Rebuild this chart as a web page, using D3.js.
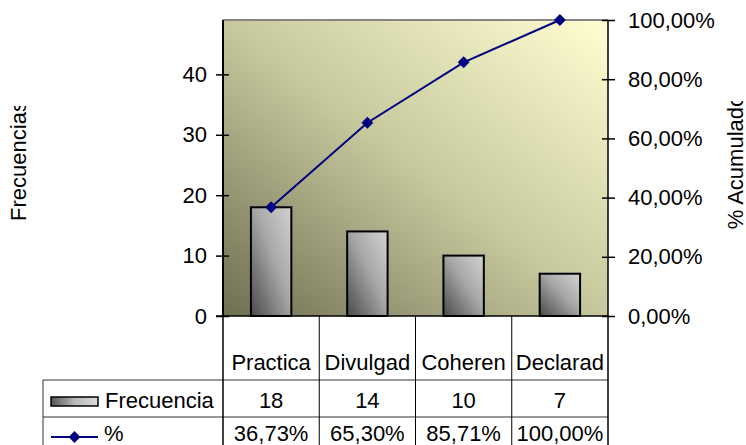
<!DOCTYPE html>
<html>
<head>
<meta charset="utf-8">
<script src="https://cdn.jsdelivr.net/npm/d3@7"></script>
<style>
  html, body { margin: 0; padding: 0; background: #ffffff; }
  svg { display: block; }
  text { font-family: "Liberation Sans", Arial, sans-serif; font-size: 22px; fill: #000; }
</style>
</head>
<body>
<svg id="chart" width="746" height="445"></svg>
<script>
// ---- data ----
const categories = ["Practica", "Divulgad", "Coheren", "Declarad"];
const frequencies = [18, 14, 10, 7];
const cumulativePct = [36.73, 65.30, 85.71, 100.00];
const leftTicks = [0, 10, 20, 30, 40];
const rightTicks = [0, 20, 40, 60, 80, 100];
const seriesNames = ["Frecuencia", "%"];
const axisTitles = ["Frecuencias", "% Acumulado"];

const locale = d3.formatLocale({ decimal: ",", thousands: ".", grouping: [3], currency: ["", ""] });
const fmtPct = v => locale.format(".2f")(v) + "%";

const svg = d3.select("#chart");
const plot = { left: 223, right: 608, top: 20, bottom: 316 };
const FONT = "Liberation Sans, Arial, sans-serif";

const x = d3.scaleBand().domain(categories).range([plot.left, plot.right]).padding(0);
const yL = d3.scaleLinear().domain([0, d3.sum(frequencies)]).range([plot.bottom, plot.top]);
const yR = d3.scaleLinear().domain([0, 100]).range([plot.bottom, plot.top]);

const defs = svg.append("defs");
const bg = defs.append("linearGradient").attr("id", "bgGrad")
  .attr("x1", 0).attr("y1", 1).attr("x2", 1).attr("y2", 0);
bg.append("stop").attr("offset", 0).attr("stop-color", "#6e6e52");
bg.append("stop").attr("offset", 0.5).attr("stop-color", "#c8c89e");
bg.append("stop").attr("offset", 1).attr("stop-color", "#ffffd2");

const barG = defs.append("linearGradient").attr("id", "barGrad")
  .attr("x1", 0).attr("y1", 1).attr("x2", 1).attr("y2", 0);
barG.append("stop").attr("offset", 0).attr("stop-color", "#4a4a4a");
barG.append("stop").attr("offset", 0.55).attr("stop-color", "#a8a8a8");
barG.append("stop").attr("offset", 1).attr("stop-color", "#d2d2d2");

const legG = defs.append("linearGradient").attr("id", "legGrad")
  .attr("x1", 0).attr("y1", 0).attr("x2", 1).attr("y2", 0);
legG.append("stop").attr("offset", 0).attr("stop-color", "#555555");
legG.append("stop").attr("offset", 0.5).attr("stop-color", "#b8b8b8");
legG.append("stop").attr("offset", 1).attr("stop-color", "#dadada");

defs.append("clipPath").attr("id", "clipL").append("rect")
  .attr("x", 0).attr("y", 106).attr("width", 60).attr("height", 140);
defs.append("clipPath").attr("id", "clipR").append("rect")
  .attr("x", 700).attr("y", 101).attr("width", 46).attr("height", 140);

// plot background
svg.append("rect")
  .attr("x", plot.left).attr("y", plot.top)
  .attr("width", plot.right - plot.left).attr("height", plot.bottom - plot.top)
  .attr("fill", "url(#bgGrad)");
// top border
svg.append("line").attr("x1", plot.left).attr("x2", plot.right)
  .attr("y1", plot.top).attr("y2", plot.top)
  .attr("stroke", "#858585").attr("stroke-width", 2);

// bars
const barW = x.bandwidth() * 0.42;
svg.append("g").selectAll("rect").data(frequencies).join("rect")
  .attr("x", (d, i) => x(categories[i]) + (x.bandwidth() - barW) / 2)
  .attr("y", d => yL(d))
  .attr("width", barW)
  .attr("height", d => yL(0) - yL(d))
  .attr("fill", "url(#barGrad)")
  .attr("stroke", "#000").attr("stroke-width", 2);

// left axis
const axL = svg.append("g").attr("transform", `translate(${plot.left},0)`)
  .call(d3.axisLeft(yL).tickValues(leftTicks).tickSize(7).tickPadding(9));
axL.select(".domain").attr("stroke", "#000").attr("stroke-width", 2)
  .attr("d", `M0,${plot.top}V${plot.bottom}`);
axL.selectAll(".tick line").attr("x1", 6).attr("stroke", "#000").attr("stroke-width", 1.5);
axL.selectAll(".tick text").style("font-size", "22px").style("font-family", FONT).attr("fill", "#000");

// right axis
const axR = svg.append("g").attr("transform", `translate(${plot.right},0)`)
  .call(d3.axisRight(yR).tickValues(rightTicks).tickSize(7).tickPadding(13).tickFormat(fmtPct));
axR.select(".domain").attr("stroke", "#000").attr("stroke-width", 1.5)
  .attr("d", `M0,${plot.top}V${plot.bottom}`);
axR.selectAll(".tick line").attr("x1", -6).attr("stroke", "#000").attr("stroke-width", 1.5);
axR.selectAll(".tick text").style("font-size", "22px").style("font-family", FONT).attr("fill", "#000");

// bottom axis line
svg.append("line").attr("x1", plot.left - 7).attr("x2", plot.right)
  .attr("y1", plot.bottom).attr("y2", plot.bottom)
  .attr("stroke", "#000").attr("stroke-width", 1.5);

// cumulative line
const cx = i => x(categories[i]) + x.bandwidth() / 2;
svg.append("path").datum(cumulativePct)
  .attr("d", d3.line().x((d, i) => cx(i)).y(d => yR(d)))
  .attr("fill", "none").attr("stroke", "#000080").attr("stroke-width", 2);
const diamond = d3.symbol().type(d3.symbolDiamond2).size(90);
svg.append("g").selectAll("path").data(cumulativePct).join("path")
  .attr("d", diamond)
  .attr("transform", (d, i) => `translate(${cx(i)},${yR(d)})`)
  .attr("fill", "#000080");

// data table
const tbl = svg.append("g").attr("stroke", "#333").attr("stroke-width", 1);
const rowY = [380, 417];
const tableLeft = 43;
rowY.forEach(y => tbl.append("line").attr("x1", tableLeft).attr("x2", plot.right).attr("y1", y).attr("y2", y));
tbl.append("line").attr("x1", tableLeft).attr("x2", tableLeft).attr("y1", rowY[0]).attr("y2", 445);
const colEdges = categories.map(c => x(c)).concat([plot.right]);
colEdges.forEach((e, i) => tbl.append("line")
  .attr("x1", e).attr("x2", e).attr("y1", plot.bottom).attr("y2", 445)
  .attr("stroke", "#000").attr("stroke-width", (i === 0 || i === colEdges.length - 1) ? 1.5 : 1));

// header
svg.append("g").selectAll("text").data(categories).join("text")
  .attr("x", d => x(d) + x.bandwidth() / 2).attr("y", 370)
  .attr("text-anchor", "middle").text(d => d);
svg.append("g").selectAll("text").data(frequencies).join("text")
  .attr("x", (d, i) => cx(i)).attr("y", 408)
  .attr("text-anchor", "middle").text(d => d);
svg.append("g").selectAll("text").data(cumulativePct).join("text")
  .attr("x", (d, i) => cx(i)).attr("y", 441)
  .attr("text-anchor", "middle").text(d => fmtPct(d));

// legend keys
svg.append("rect").attr("x", 51).attr("y", 397).attr("width", 47).attr("height", 9)
  .attr("fill", "url(#legGrad)").attr("stroke", "#000").attr("stroke-width", 1.5);
svg.append("text").attr("x", 105).attr("y", 408).text(seriesNames[0]);
svg.append("line").attr("x1", 51).attr("x2", 98).attr("y1", 437).attr("y2", 437)
  .attr("stroke", "#000080").attr("stroke-width", 2);
svg.append("path").attr("d", diamond).attr("transform", "translate(74.5,437)").attr("fill", "#000080");
svg.append("text").attr("x", 104).attr("y", 441).text(seriesNames[1]);

// axis titles
svg.append("g").attr("clip-path", "url(#clipL)")
  .append("text").attr("transform", "translate(26,161) rotate(-90)")
  .attr("text-anchor", "middle").text(axisTitles[0]);
svg.append("g").attr("clip-path", "url(#clipR)")
  .append("text").attr("transform", "translate(743,162) rotate(-90)")
  .attr("text-anchor", "middle").text(axisTitles[1]);
</script>
</body>
</html>
